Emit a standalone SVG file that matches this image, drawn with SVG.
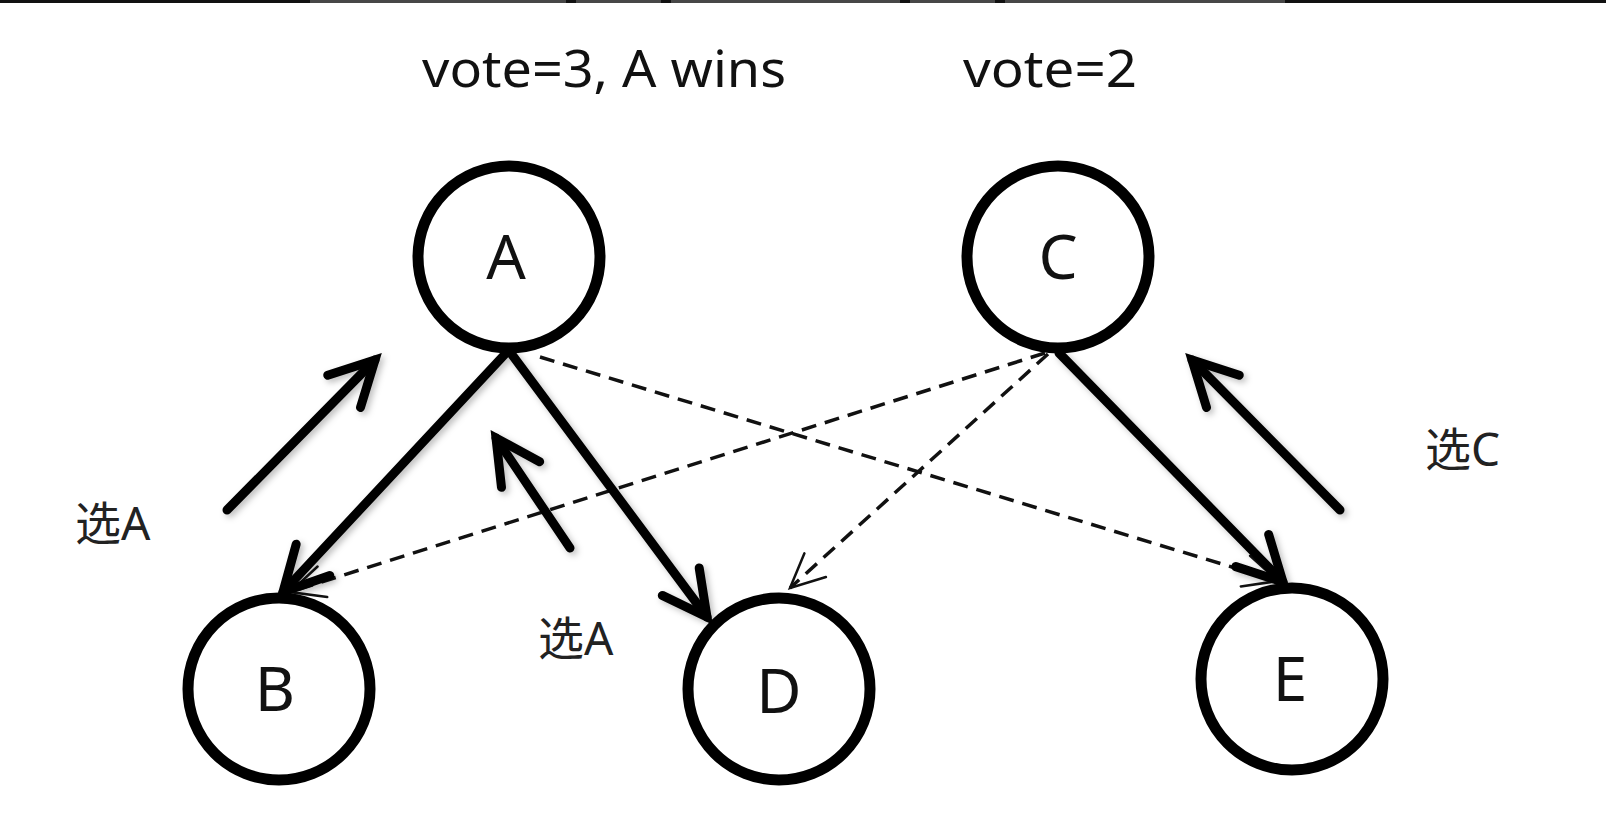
<svg xmlns="http://www.w3.org/2000/svg" width="1606" height="818" viewBox="0 0 1606 818">
  <defs>
    <style>
      .node { fill: #fff; stroke: #000; stroke-width: 11; }
      .lbl { font-family: "Noto Sans", "Open Sans", "Liberation Sans", sans-serif; font-size: 62px; fill: #111; text-anchor: middle; }
      .txt { font-family: "Noto Sans", "Open Sans", "Liberation Sans", sans-serif; font-size: 51px; fill: #111; }
      .cjk { font-family: "Noto Sans", "Noto Sans CJK SC", sans-serif; font-size: 46px; fill: #222; }
      .thick { fill: none; stroke: #000; stroke-width: 9; stroke-linecap: round; }
      .dash { fill: none; stroke: #111; stroke-width: 3.5; stroke-dasharray: 15 9; }
    </style>
    <marker id="bigHead" viewBox="-60 -35 70 70" markerWidth="70" markerHeight="70" refX="0" refY="0" orient="auto" markerUnits="userSpaceOnUse">
      <path d="M-44,-23 L0,0 L-44,23" fill="none" stroke="#000" stroke-width="9" stroke-linecap="round" stroke-linejoin="miter"/>
    </marker>
    <marker id="thinHead" viewBox="-50 -30 60 60" markerWidth="60" markerHeight="60" refX="0" refY="0" orient="auto" markerUnits="userSpaceOnUse">
      <path d="M-34,-16 L0,0 L-34,16" fill="none" stroke="#111" stroke-width="2.5" stroke-linecap="round"/>
    </marker>
    <filter id="shadow" x="-20%" y="-20%" width="140%" height="140%">
      <feDropShadow dx="3" dy="3" stdDeviation="3" flood-color="#000" flood-opacity="0.25"/>
    </filter>
  </defs>

  <rect x="0" y="0" width="1606" height="818" fill="#fff"/>

  <!-- top band -->
  <g id="top-band">
    <rect x="0" y="0" width="310" height="3" fill="#111"/>
    <rect x="310" y="0" width="975" height="3" fill="#474747"/>
    <rect x="1285" y="0" width="321" height="3" fill="#111"/>
    <rect x="566" y="0" width="10" height="3" fill="#111"/>
    <rect x="661" y="0" width="10" height="3" fill="#111"/>
    <rect x="900" y="0" width="10" height="3" fill="#111"/>
    <rect x="995" y="0" width="10" height="3" fill="#111"/>
  </g>

  <!-- titles -->
  <g id="titles">
    <text class="txt" x="422" y="87" textLength="364" lengthAdjust="spacingAndGlyphs">vote=3, A wins</text>
    <text class="txt" x="963" y="87" textLength="174" lengthAdjust="spacingAndGlyphs">vote=2</text>
  </g>

  <!-- connectors -->
  <g id="connectors">
    <line class="dash" x1="540" y1="357" x2="1278" y2="581" marker-end="url(#thinHead)"/>
    <line class="dash" x1="1045" y1="353" x2="290" y2="592" marker-end="url(#thinHead)"/>
    <line class="dash" x1="1048" y1="354" x2="790" y2="588" marker-end="url(#thinHead)"/>
    <g filter="url(#shadow)">
      <line class="thick" x1="507" y1="352" x2="283" y2="592" marker-end="url(#bigHead)"/>
      <line class="thick" x1="510" y1="352" x2="707" y2="617" marker-end="url(#bigHead)"/>
      <line class="thick" x1="1059" y1="353" x2="1283" y2="582" marker-end="url(#bigHead)"/>
      <line class="thick" x1="227" y1="510" x2="375" y2="360" marker-end="url(#bigHead)"/>
      <line class="thick" x1="570" y1="548" x2="496" y2="438" marker-end="url(#bigHead)"/>
      <line class="thick" x1="1340" y1="510" x2="1192" y2="360" marker-end="url(#bigHead)"/>
    </g>
  </g>

  <!-- nodes -->
  <g id="node-A">
    <circle class="node" cx="509" cy="257" r="91"/>
    <text class="lbl" x="506" y="279">A</text>
  </g>
  <g id="node-C">
    <circle class="node" cx="1058" cy="257" r="91"/>
    <text class="lbl" x="1058" y="279">C</text>
  </g>
  <g id="node-B">
    <circle class="node" cx="279" cy="689" r="91"/>
    <text class="lbl" x="275" y="711">B</text>
  </g>
  <g id="node-D">
    <circle class="node" cx="779" cy="689" r="91"/>
    <text class="lbl" x="779" y="713">D</text>
  </g>
  <g id="node-E">
    <circle class="node" cx="1292" cy="679" r="91"/>
    <text class="lbl" x="1290" y="701">E</text>
  </g>

  <!-- vote labels -->
  <g id="labels">
    <text class="cjk" x="75" y="540">选A</text>
    <text class="cjk" x="538" y="655">选A</text>
    <text class="cjk" x="1425" y="466">选C</text>
  </g>
</svg>
